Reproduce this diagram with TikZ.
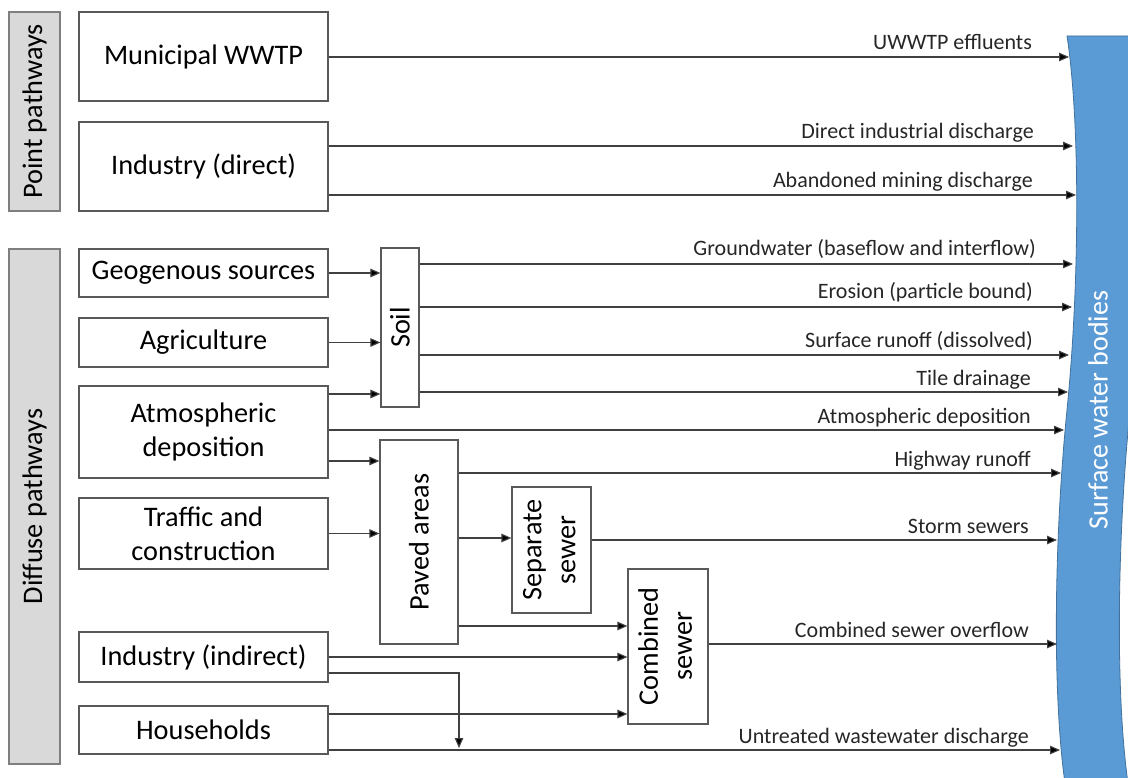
\documentclass[tikz,border=0pt]{standalone}
\usepackage{fontspec}
\setmainfont{Carlito}
\usetikzlibrary{arrows.meta}
\definecolor{boxgray}{HTML}{595959}
\definecolor{sidegray}{HTML}{7F7F7F}
\definecolor{sidefill}{HTML}{D9D9D9}
\definecolor{linegray}{HTML}{404040}
\definecolor{waterblue}{HTML}{5B9BD5}
\definecolor{waterdark}{HTML}{41719C}
\newcommand\boxfont{\fontsize{28.3}{34}\selectfont}
\newcommand\lblfont{\fontsize{22}{26}\selectfont}
\newcommand\waterfont{\fontsize{28}{34}\selectfont}
\newcommand\vtwo[2]{\rotatebox{90}{\begin{tabular}{@{}c@{}}#1\\#2\end{tabular}}}
\begin{document}
\begin{tikzpicture}[x=1pt,y=-1pt,
  box/.style={draw=boxgray, line width=1.2pt, fill=white, inner sep=0pt, font=\boxfont, align=center},
  side/.style={draw=sidegray, line width=1.2pt, fill=sidefill, inner sep=0pt, font=\boxfont},
  flow/.style={draw=linegray, line width=1.1pt, -{Triangle[length=10pt,width=8.5pt,fill=black]}},
  lbl/.style={anchor=base east, font=\lblfont, inner sep=0pt, text=black!85},
]
\useasboundingbox (0,0) rectangle (1128,778);

% water body
\begin{scope}
\clip (0,0) rectangle (1128,778);
\path[fill=waterblue, draw=waterdark, line width=0.8pt]
  (1067,36) .. controls (1080,120) and (1080,280) .. (1067,410)
  .. controls (1054,540) and (1052,700) .. (1066,790)
  -- (1129,790)
  .. controls (1115,700) and (1117,540) .. (1130,410)
  .. controls (1143,280) and (1143,120) .. (1130,36) -- cycle;
\end{scope}
\node[rotate=90, text=white, font=\waterfont, inner sep=0pt] (wt) at (1098,410) {Surface water bodies};

% side labels
\node[side, minimum width=51pt, minimum height=199pt] (pp) at (34.5,111.5) {\rotatebox{90}{Point pathways}};
\node[side, minimum width=51pt, minimum height=515pt] (dp) at (34.5,506.5) {\rotatebox{90}{Diffuse pathways}};

% source boxes
\node[box, minimum width=249pt, minimum height=89pt] (mw) at (203.5,56.5) {Municipal WWTP};
\node[box, minimum width=249pt, minimum height=89pt] (id) at (203.5,166.5) {Industry (direct)};
\node[box, minimum width=249pt, minimum height=48pt] (ge) at (203.5,273) {Geogenous sources};
\node[box, minimum width=249pt, minimum height=49pt] (ag) at (203.5,342.5) {Agriculture};
\node[box, minimum width=249pt, minimum height=92pt] (at) at (203.5,432) {Atmospheric\\deposition};
\node[box, minimum width=249pt, minimum height=71pt] (tr) at (203.5,533.5) {Traffic and\\construction};
\node[box, minimum width=249pt, minimum height=50pt] (ii) at (203.5,657) {Industry (indirect)};
\node[box, minimum width=249pt, minimum height=48pt] (hh) at (203.5,730) {Households};

% intermediate boxes
\node[box, minimum width=38pt, minimum height=159pt] (so) at (400,327.5) {\rotatebox{90}{Soil}};
\node[box, minimum width=78pt, minimum height=204pt] (pa) at (419,542) {\rotatebox{90}{Paved areas}};
\node[box, minimum width=79pt, minimum height=126pt] (se) at (551.5,550) {\vtwo{Separate}{sewer}};
\node[box, minimum width=80pt, minimum height=155pt] (co) at (668,646.5) {\vtwo{Combined}{sewer}};

% helper coordinates
\coordinate (w1) at (1069,57);
\coordinate (w2) at (1073,146);
\coordinate (w3) at (1076,195);
\coordinate (w4) at (1073,264);
\coordinate (w5) at (1072,307);
\coordinate (w6) at (1069,355);
\coordinate (w7) at (1068,392);
\coordinate (w8) at (1064,430);
\coordinate (w9) at (1061,473);
\coordinate (w10) at (1057,540);
\coordinate (w11) at (1057,644);
\coordinate (w12) at (1060,750);
\coordinate (yA1) at (0,394);
\coordinate (yA2) at (0,461);
\coordinate (yP1) at (0,538);
\coordinate (yP2) at (0,626);
\coordinate (yI1) at (0,657);
\coordinate (yI2) at (0,673);
\coordinate (yH1) at (0,714);
\coordinate (drop) at (459,748);

% flows to water
\draw[flow] (mw.east |- w1) -- (w1);
\draw[flow] (id.east |- w2) -- (w2);
\draw[flow] (id.east |- w3) -- (w3);
\draw[flow] (so.east |- w4) -- (w4);
\draw[flow] (so.east |- w5) -- (w5);
\draw[flow] (so.east |- w6) -- (w6);
\draw[flow] (so.east |- w7) -- (w7);
\draw[flow] (at.east |- w8) -- (w8);
\draw[flow] (pa.east |- w9) -- (w9);
\draw[flow] (se.east |- w10) -- (w10);
\draw[flow] (co.east |- w11) -- (w11);
\draw[flow] (hh.east |- w12) -- (w12);

% internal flows
\draw[flow] (ge.east) -- (ge.east -| so.west);
\draw[flow] (ag.east) -- (ag.east -| so.west);
\draw[flow] (at.east |- yA1) -- (so.west |- yA1);
\draw[flow] (at.east |- yA2) -- (pa.west |- yA2);
\draw[flow] (tr.east) -- (tr.east -| pa.west);
\draw[flow] (pa.east |- yP1) -- (se.west |- yP1);
\draw[flow] (pa.east |- yP2) -- (co.west |- yP2);
\draw[flow] (ii.east |- yI1) -- (co.west |- yI1);
\draw[flow] (hh.east |- yH1) -- (co.west |- yH1);
\draw[flow] (ii.east |- yI2) -| (drop);

% labels
\node[lbl] (l1) at (1032,50) {UWWTP effluents};
\node[lbl] (l2) at (1034,139) {Direct industrial discharge};
\node[lbl] (l3) at (1033,188) {Abandoned mining discharge};
\node[lbl] (l4) at (1036,256) {Groundwater (baseflow and interflow)};
\node[lbl] (l5) at (1033,299) {Erosion (particle bound)};
\node[lbl] (l6) at (1033,347) {Surface runoff (dissolved)};
\node[lbl] (l7) at (1031,385) {Tile drainage};
\node[lbl] (l8) at (1031,423) {Atmospheric deposition};
\node[lbl] (l9) at (1031,466) {Highway runoff};
\node[lbl] (l10) at (1029,533) {Storm sewers};
\node[lbl] (l11) at (1029,637) {Combined sewer overflow};
\node[lbl] (l12) at (1029,743) {Untreated wastewater discharge};
\end{tikzpicture}
\end{document}
